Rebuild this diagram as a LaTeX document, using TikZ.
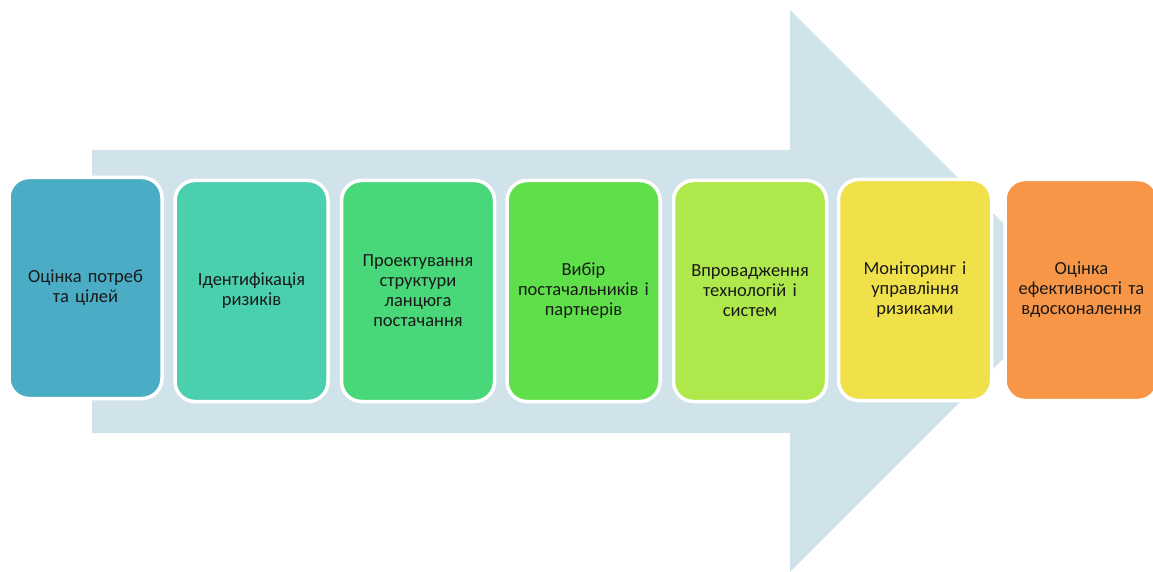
\documentclass[tikz,border=0pt]{standalone}
\usepackage{fontspec}
\setmainfont{Carlito}
\definecolor{arrowfill}{HTML}{D0E2EA}
\definecolor{cA}{HTML}{4BACC6}
\definecolor{cB}{HTML}{4ACFAF}
\definecolor{cC}{HTML}{48D87A}
\definecolor{cD}{HTML}{5FE04A}
\definecolor{cE}{HTML}{AEE84A}
\definecolor{cF}{HTML}{F0E04A}
\definecolor{cG}{HTML}{F79646}
\definecolor{txt}{HTML}{1A1A1A}
\tikzset{
  stage/.style={draw=white, line width=3.5pt, rounded corners=20pt,
    minimum width=153pt, minimum height=221pt, align=center,
    text width=150pt, text=txt, inner sep=0pt,
    font=\fontsize{18.5}{20}\selectfont}
}
\begin{document}
\begin{tikzpicture}[x=1pt,y=-1pt]
\useasboundingbox (0,0) rectangle (1153,572);
% big background arrow
\fill[arrowfill] (92,150) -- (790,150) -- (790,10) -- (1071,291)
  -- (790,572) -- (790,433) -- (92,433) -- cycle;
% process stages
\node[stage, fill=cA] (s1) at (85.5,288) {Оцінка потреб\\та цілей};
\node[stage, fill=cB] (s2) at (251.5,291) {Ідентифікація\\ризиків};
\node[stage, fill=cC] (s3) at (418,291) {Проектування\\структури\\ланцюга\\постачання};
\node[stage, fill=cD] (s4) at (583.5,291) {Вибір\\постачальників і\\партнерів};
\node[stage, fill=cE] (s5) at (750,291) {Впровадження\\технологій і\\систем};
\node[stage, fill=cF] (s6) at (915,290) {Моніторинг і\\управління\\ризиками};
\node[stage, fill=cG] (s7) at (1081.5,290) {Оцінка\\ефективності та\\вдосконалення};
\end{tikzpicture}
\end{document}
